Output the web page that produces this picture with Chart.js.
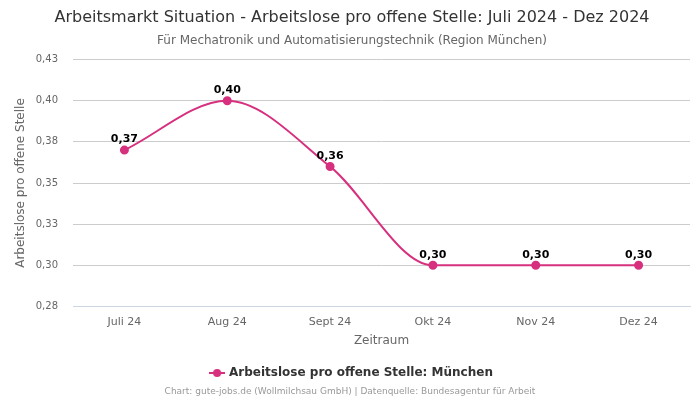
<!DOCTYPE html>
<html>
<head>
<meta charset="utf-8">
<script src="https://cdn.jsdelivr.net/npm/chart.js@4"></script>
<style>
  body { margin: 0; background: #fff; }
  #wrap { width: 700px; height: 400px; }
</style>
</head>
<body>
<div id="wrap"><canvas id="myChart"></canvas></div>
<script>
const labels = ["Juli 24", "Aug 24", "Sept 24", "Okt 24", "Nov 24", "Dez 24"];
const werte = [0.37, 0.40, 0.36, 0.30, 0.30, 0.30];
const yTicks = [0.275, 0.3, 0.325, 0.35, 0.375, 0.4, 0.425];

const farbe = "#d6307f";
const fmt = v => (v + 1e-9).toFixed(2).replace(".", ",");

// Legenden-Symbol: Linie mit Punkt
const symbol = document.createElement("canvas");
symbol.width = 16; symbol.height = 10;
const sc = symbol.getContext("2d");
sc.strokeStyle = farbe; sc.lineWidth = 2;
sc.beginPath(); sc.moveTo(0, 5); sc.lineTo(16, 5); sc.stroke();
sc.fillStyle = farbe;
sc.beginPath(); sc.arc(8, 5, 4, 0, Math.PI * 2); sc.fill();

// Werte über den Punkten
const wertLabels = {
    id: "wertLabels",
    afterDatasetsDraw(chart) {
        const c = chart.ctx;
        const meta = chart.getDatasetMeta(0);
        c.save();
        c.font = "bold 11px 'DejaVu Sans'";
        c.fillStyle = "#000";
        c.textAlign = "center";
        c.textBaseline = "bottom";
        meta.data.forEach((pt, i) => {
            c.fillText(fmt(werte[i]), pt.x, pt.y - 5);
        });
        c.restore();
    }
};

// Quellenangabe unten
const quelle = {
    id: "quelle",
    afterDraw(chart) {
        const c = chart.ctx;
        c.save();
        c.font = "9px 'DejaVu Sans'";
        c.fillStyle = "#999";
        c.textAlign = "center";
        c.textBaseline = "middle";
        c.fillText("Chart: gute-jobs.de (Wollmilchsau GmbH) | Datenquelle: Bundesagentur für Arbeit", chart.width / 2, 392);
        c.restore();
    }
};

const config = {
    type: "line",
    data: {
        labels,
        datasets: [{
            label: "Arbeitslose pro offene Stelle: München",
            data: werte,
            borderColor: farbe,
            backgroundColor: farbe,
            pointBackgroundColor: farbe,
            pointBorderColor: farbe,
            pointRadius: 3.5,
            borderWidth: 2,
            cubicInterpolationMode: "monotone"
        }]
    },
    options: {
        responsive: true,
        maintainAspectRatio: false,
        animation: false,
        layout: { padding: { left: 14, right: 10, bottom: 11 } },
        scales: {
            y: {
                min: 0.275,
                max: 0.425,
                afterBuildTicks: axis => { axis.ticks = yTicks.map(v => ({ value: v })); },
                afterFit: axis => { axis.width = 59; },
                ticks: {
                    color: "#666",
                    font: { family: "DejaVu Sans", size: 10 },
                    padding: 15,
                    callback: v => fmt(v)
                },
                grid: { color: "#ccc", drawTicks: false },
                border: { display: false },
                title: {
                    display: true,
                    text: "Arbeitslose pro offene Stelle",
                    color: "#666",
                    font: { family: "DejaVu Sans", size: 12 },
                    padding: 0
                }
            },
            x: {
                offset: true,
                ticks: {
                    color: "#666",
                    font: { family: "DejaVu Sans", size: 11 },
                    padding: 1
                },
                grid: { display: false },
                border: { color: "#ccd6e0" },
                title: {
                    display: true,
                    text: "Zeitraum",
                    color: "#666",
                    font: { family: "DejaVu Sans", size: 12 },
                    padding: { top: 4, bottom: 5 }
                }
            }
        },
        plugins: {
            title: {
                display: true,
                text: "Arbeitsmarkt Situation - Arbeitslose pro offene Stelle: Juli 2024 - Dez 2024",
                color: "#333",
                font: { family: "DejaVu Sans", size: 16, weight: "normal" },
                padding: { top: 8, bottom: 6 }
            },
            subtitle: {
                display: true,
                text: "Für Mechatronik und Automatisierungstechnik (Region München)",
                color: "#666",
                font: { family: "DejaVu Sans", size: 12 },
                padding: { bottom: 12 }
            },
            legend: {
                position: "bottom",
                labels: {
                    color: "#333",
                    font: { family: "DejaVu Sans", size: 12, weight: "bold" },
                    usePointStyle: true,
                    padding: 14,
                    generateLabels: chart => chart.data.datasets.map((ds, i) => ({
                        text: ds.label,
                        pointStyle: symbol,
                        fontColor: "#333",
                        datasetIndex: i
                    }))
                }
            },
            tooltip: { enabled: false }
        }
    },
    plugins: [wertLabels, quelle]
};

const myChart = new Chart(document.getElementById("myChart").getContext("2d"), config);
</script>
</body>
</html>
